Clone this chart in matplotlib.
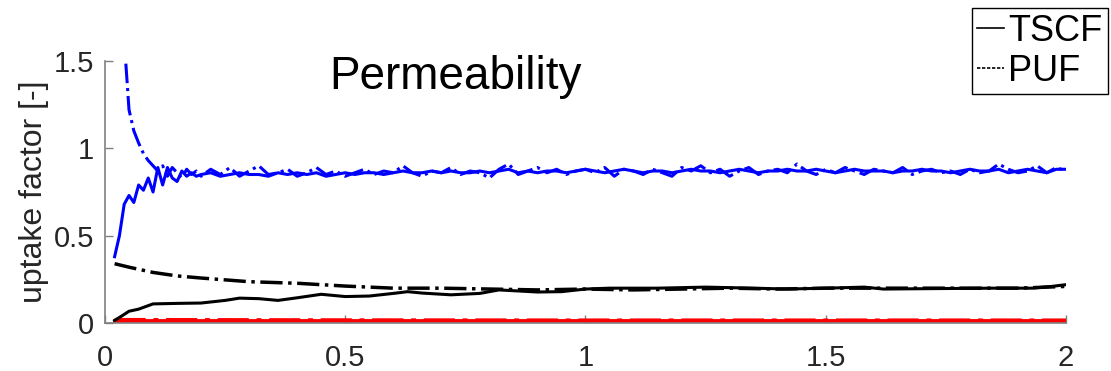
import numpy as np
import matplotlib.pyplot as plt
from matplotlib.lines import Line2D

plt.rcParams['font.family'] = ['Liberation Sans', 'DejaVu Sans']

# sampling grid of the noisy blue curves
x_blue = np.r_[np.arange(0.02, 0.205, 0.01), np.arange(0.22, 2.001, 0.02)]

blue_tscf = [
    0.38, 0.50, 0.68, 0.73, 0.69, 0.79, 0.76, 0.83, 0.75, 0.89,
    0.79, 0.89, 0.83, 0.81, 0.87, 0.84, 0.86, 0.84, 0.85,
    0.86, 0.84, 0.85, 0.86, 0.85, 0.85, 0.84, 0.86, 0.85, 0.86,
    0.85, 0.86, 0.84, 0.85, 0.86, 0.85, 0.86, 0.86, 0.85, 0.86,
    0.87, 0.86, 0.86, 0.87, 0.86, 0.87, 0.86, 0.86, 0.87, 0.86,
    0.87, 0.88, 0.86, 0.87, 0.86, 0.87, 0.87, 0.86, 0.87, 0.88,
    0.87, 0.86, 0.87, 0.88, 0.87, 0.86, 0.87, 0.87, 0.86, 0.87,
    0.88, 0.87, 0.87, 0.86, 0.87, 0.88, 0.87, 0.86, 0.87, 0.87,
    0.88, 0.87, 0.87, 0.88, 0.87, 0.86, 0.87, 0.88, 0.87, 0.87,
    0.87, 0.86, 0.87, 0.87, 0.88, 0.87, 0.87, 0.86, 0.87, 0.88,
    0.87, 0.87, 0.88, 0.86, 0.87, 0.88, 0.87, 0.86, 0.88, 0.88,
]

blue_puf = [
    3.00, 2.10, 1.62, 1.22, 1.10, 1.03, 0.97, 0.93, 0.90, 0.87,
    0.90, 0.84, 0.89, 0.86, 0.83, 0.88, 0.85, 0.87, 0.84,
    0.88, 0.85, 0.89, 0.84, 0.87, 0.90, 0.85, 0.86, 0.88, 0.84,
    0.86, 0.89, 0.85, 0.87, 0.84, 0.86, 0.88, 0.85, 0.87, 0.86,
    0.90, 0.86, 0.84, 0.87, 0.86, 0.89, 0.85, 0.87, 0.86, 0.83,
    0.88, 0.91, 0.85, 0.87, 0.89, 0.86, 0.88, 0.85, 0.87, 0.88,
    0.86, 0.89, 0.84, 0.88, 0.87, 0.85, 0.88, 0.86, 0.84, 0.89,
    0.87, 0.90, 0.86, 0.88, 0.84, 0.87, 0.89, 0.85, 0.87, 0.88,
    0.86, 0.91, 0.87, 0.85, 0.88, 0.86, 0.89, 0.87, 0.85, 0.88,
    0.87, 0.86, 0.89, 0.85, 0.87, 0.88, 0.86, 0.87, 0.85, 0.88,
    0.86, 0.87, 0.91, 0.88, 0.86, 0.87, 0.90, 0.86, 0.89, 0.87,
]

x_black_puf = [0.02, 0.05, 0.1, 0.15, 0.2, 0.3, 0.4, 0.5, 0.6, 0.7, 0.8, 0.9,
               1.0, 1.1, 1.2, 1.3, 1.4, 1.5, 1.6, 1.7, 1.8, 1.9, 2.0]
black_puf = [0.34, 0.32, 0.29, 0.27, 0.258, 0.237, 0.228, 0.212, 0.20, 0.20,
             0.195, 0.19, 0.195, 0.19, 0.195, 0.20, 0.195, 0.20, 0.20, 0.20,
             0.20, 0.20, 0.21]

x_black_tscf = [0.02, 0.04, 0.05, 0.07, 0.1, 0.15, 0.2, 0.25, 0.28, 0.32, 0.36,
                0.4, 0.45, 0.5, 0.55, 0.6, 0.63, 0.66, 0.72, 0.78, 0.82, 0.9,
                0.95, 1.0, 1.05, 1.15, 1.25, 1.35, 1.42, 1.5, 1.58, 1.62, 1.75,
                1.85, 1.93, 1.97, 2.0]
black_tscf = [0.015, 0.05, 0.068, 0.08, 0.11, 0.113, 0.115, 0.13, 0.143, 0.14,
              0.13, 0.145, 0.165, 0.152, 0.155, 0.17, 0.18, 0.172, 0.162, 0.17,
              0.19, 0.178, 0.18, 0.195, 0.20, 0.20, 0.206, 0.20, 0.195, 0.20,
              0.206, 0.195, 0.198, 0.20, 0.20, 0.21, 0.22]

x_red = [0.02, 0.5, 1.0, 1.5, 2.0]
red_tscf = [0.01, 0.01, 0.01, 0.01, 0.01]
red_puf = [0.016, 0.014, 0.013, 0.013, 0.013]

fig = plt.figure(figsize=(11.11, 3.71), dpi=100)
ax = fig.add_axes([0.0945, 0.129, 0.865, 0.707])

ax.plot(x_red, red_puf, color='red', lw=3.5, ls='-.')
ax.plot(x_red, red_tscf, color='red', lw=3.5, ls='-')
ax.plot(x_black_puf, black_puf, color='black', lw=2.5, ls='-.')
ax.plot(x_black_tscf, black_tscf, color='black', lw=2.2, ls='-')
ax.plot(x_blue, blue_puf, color='blue', lw=2.2, ls='-.')
ax.plot(x_blue, blue_tscf, color='blue', lw=2.2, ls='-')

ax.set_xlim(0, 2)
ax.set_ylim(0, 1.5)
ax.set_xticks([0, 0.5, 1, 1.5, 2])
ax.set_xticklabels(['0', '0.5', '1', '1.5', '2'])
ax.set_yticks([0, 0.5, 1, 1.5])
ax.set_yticklabels(['0', '0.5', '1', '1.5'])
for s in ['top', 'right']:
    ax.spines[s].set_visible(False)
for s in ['left', 'bottom']:
    ax.spines[s].set_color('#808080')
    ax.spines[s].set_linewidth(1.2)
ax.tick_params(direction='in', length=6, width=1, color='#808080',
               labelsize=21, labelcolor='#262626')
ax.tick_params(axis='x', pad=15)
ax.tick_params(axis='y', pad=8)
ax.set_ylabel('uptake factor [-]', fontsize=23, color='#262626', labelpad=3)

ax.text(0.73, 1.41, 'Permeability', fontsize=33, ha='center', va='center')

handles = [Line2D([], [], color='black', lw=1.2, ls='-'),
           Line2D([], [], color='black', lw=1.2, ls=(0, (2, 1)))]
fig.legend(handles, ['TSCF', 'PUF'], loc='upper right',
           bbox_to_anchor=(0.997, 0.978), borderaxespad=0, fontsize=26,
           fancybox=False, edgecolor='black', framealpha=1,
           handlelength=0.75, handletextpad=0.1, borderpad=0.15,
           labelspacing=0.15)

fig.savefig('out.png', dpi=100)
